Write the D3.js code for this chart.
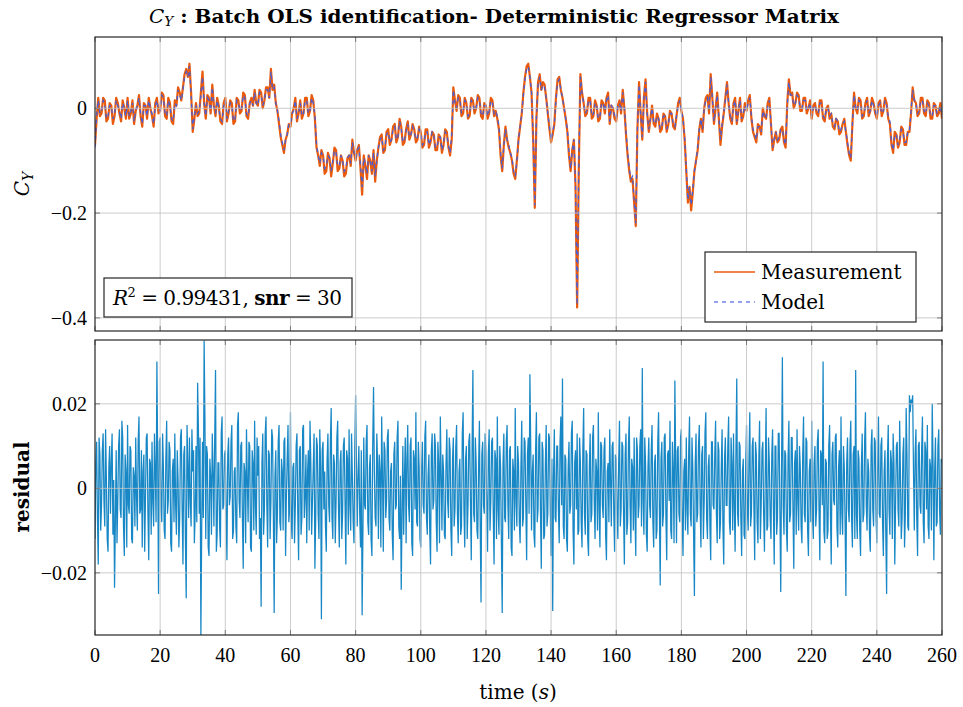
<!DOCTYPE html>
<html>
<head>
<meta charset="utf-8">
<script src="https://cdn.jsdelivr.net/npm/d3@7"></script>
<style>
  body { margin: 0; background: #fff; }
  svg { display: block; }
  .num { font-family: "Liberation Serif", serif; }
  .word { font-family: "DejaVu Serif", serif; }
</style>
</head>
<body>
<div id="chart"></div>
<script>
// x ticks (seconds) and y ticks for both panels
const xTicks = [0, 20, 40, 60, 80, 100, 120, 140, 160, 180, 200, 220, 240, 260];
const topTicks = [-0.4, -0.2, 0];
const topTickLabels = ["\u22120.4", "\u22120.2", "0"];
const resTicks = [-0.02, 0, 0.02];
const resTickLabels = ["\u22120.02", "0", "0.02"];

// sample spacing (s)
const topStep = 0.5;
const resStep = 0.25;

// C_Y measurement, two values per second
const measurement = [
  -.07,-.02,.02,-.015,-.01,.02,.015,-.025,-.02,.01,.005,-.03,-.015,.02,.01,-.01,-.025,.015,0,-.02,
  .02,-.02,-.01,.015,-.03,-.005,.005,.025,-.015,-.035,.01,.005,-.02,.02,0,-.015,-.035,.01,.02,-.01,
  -.005,.03,.025,-.015,-.02,.02,.01,-.025,-.03,.015,.005,.04,.03,.015,.04,.065,.075,.06,.085,.03,
  -.045,-.02,.01,-.015,-.01,.03,.07,.01,-.02,.025,.02,-.01,.045,.005,-.015,.02,.005,-.025,-.03,.01,
  .02,-.025,-.01,.015,.01,-.03,-.025,.02,.015,-.01,-.005,.03,.025,-.015,-.02,.01,.02,.005,.035,.01,
  .005,.035,.03,0,.015,.04,.04,.02,.075,.035,.045,.01,-.005,-.03,-.055,-.07,-.085,-.06,-.05,-.03,
  -.035,-.01,0,.02,-.025,-.01,.015,-.02,-.01,.02,.02,-.015,-.005,.025,.015,-.02,-.075,-.09,-.11,-.08,
  -.09,-.125,-.12,-.085,-.095,-.13,-.105,-.075,-.08,-.12,-.115,-.09,-.1,-.13,-.125,-.095,-.09,-.11,-.06,-.085,
  -.1,-.08,-.07,-.115,-.165,-.09,-.11,-.135,-.09,-.1,-.125,-.08,-.14,-.1,-.075,-.055,-.05,-.085,-.08,-.045,
  -.04,-.07,-.06,-.035,-.03,-.065,-.055,-.02,-.035,-.07,-.065,-.04,-.025,-.06,-.05,-.03,-.04,-.065,-.06,-.035,
  -.045,-.075,-.07,-.04,-.04,-.075,-.065,-.045,-.05,-.08,-.08,-.05,-.055,-.085,-.07,-.04,-.045,-.075,-.09,-.06,
  .04,.015,-.005,.025,.02,-.015,-.01,.02,.01,-.02,-.015,.02,.015,-.01,0,.025,.02,-.015,-.02,.01,
  .005,-.02,-.01,.02,.015,-.015,-.005,-.02,-.04,-.09,-.12,-.07,-.035,-.06,-.075,-.085,-.1,-.125,-.135,-.1,
  -.06,-.035,-.01,.03,.06,.08,.085,.06,.03,-.06,-.19,-.02,.05,.065,.035,.05,.045,.02,-.01,-.04,
  -.065,-.05,-.03,.02,.055,.06,.035,.02,0,-.02,-.045,-.09,-.12,-.08,-.06,-.15,-.38,-.12,.065,.03,
  .01,-.015,-.01,.02,.02,-.02,-.015,.015,.005,-.025,-.02,.015,.01,-.01,.02,.03,-.03,.005,0,-.02,
  -.025,.005,.015,-.01,.035,0,-.05,-.09,-.12,-.14,-.135,-.18,-.225,-.04,.05,-.01,-.06,.02,.055,-.01,
  -.045,-.02,.005,-.03,-.035,-.01,-.02,-.045,-.04,-.01,-.015,-.045,-.03,-.005,-.01,-.035,-.04,-.015,.01,.02,
  -.005,-.02,-.06,-.12,-.18,-.15,-.195,-.16,-.12,-.1,-.08,-.04,-.02,-.045,0,.02,.025,-.01,.065,.02,
  -.03,0,.03,-.02,-.07,-.035,-.01,.02,.05,.01,-.02,-.03,.01,.02,-.03,-.005,.02,-.025,-.015,.01,
  -.005,.015,.025,-.02,-.045,-.055,-.065,-.03,-.035,-.05,0,-.015,-.02,.01,.02,-.03,-.08,-.06,-.045,-.065,
  -.06,-.04,-.035,-.065,-.075,.01,.055,.025,.03,0,.01,.03,.025,-.005,-.005,.02,.02,-.01,0,.015,
  -.02,.005,.01,-.01,-.015,.015,.015,-.02,-.025,0,.005,-.02,-.01,-.035,-.04,-.02,-.025,-.05,-.045,-.03,
  -.02,-.045,-.07,-.09,-.1,-.03,.03,0,-.01,.02,.015,-.02,-.015,.01,.02,-.015,-.005,.02,.01,-.01,
  -.02,.01,.015,-.015,-.005,.02,.01,-.02,-.03,-.07,-.085,-.045,-.05,-.075,-.065,-.035,-.04,-.07,-.07,-.045,
  -.045,-.01,.04,.015,.01,-.015,-.01,.02,.02,-.01,-.015,.015,.01,-.02,-.02,.01,.005,-.015,-.01,.01,
  -.02
];

// OLS model output, two values per second
const model = [
  -.075,-.015,.015,-.01,-.005,.015,.01,-.02,-.015,.005,.005,-.02,-.01,.015,.005,-.005,-.02,.01,0,-.015,
  .015,-.015,-.005,.01,-.025,-.005,.005,.02,-.01,-.03,.005,.005,-.015,.015,0,-.01,-.03,.005,.015,-.005,
  -.005,.025,.02,-.01,-.015,.015,.005,-.02,-.025,.01,.005,.035,.025,.015,.035,.06,.07,.06,.08,.025,
  -.04,-.015,.005,-.01,-.005,.025,.06,.01,-.015,.02,.015,-.005,.04,.005,-.01,.015,0,-.02,-.025,.005,
  .015,-.02,-.005,.01,.005,-.025,-.02,.015,.01,-.005,0,.025,.02,-.01,-.015,.01,.015,.005,.03,.01,
  .005,.03,.025,.005,.015,.035,.035,.02,.07,.035,.04,.01,-.005,-.025,-.05,-.065,-.08,-.06,-.05,-.03,
  -.03,-.01,-.005,.015,-.02,-.01,.01,-.015,-.01,.015,.015,-.01,-.005,.02,.01,-.015,-.07,-.09,-.105,-.085,
  -.09,-.115,-.11,-.09,-.095,-.12,-.1,-.08,-.085,-.11,-.11,-.09,-.1,-.12,-.115,-.095,-.09,-.105,-.065,-.085,
  -.095,-.08,-.075,-.11,-.15,-.095,-.105,-.125,-.09,-.1,-.12,-.085,-.13,-.1,-.075,-.06,-.055,-.08,-.075,-.05,
  -.045,-.065,-.06,-.04,-.035,-.06,-.055,-.025,-.04,-.065,-.06,-.045,-.03,-.055,-.05,-.035,-.045,-.06,-.055,-.04,
  -.05,-.07,-.065,-.045,-.045,-.07,-.06,-.045,-.05,-.075,-.075,-.055,-.055,-.08,-.065,-.045,-.05,-.07,-.085,-.05,
  .035,.01,0,.02,.015,-.01,-.005,.015,.01,-.015,-.01,.015,.01,-.005,0,.02,.015,-.01,-.015,.005,
  .005,-.015,-.005,.015,.01,-.01,-.005,-.015,-.035,-.085,-.115,-.07,-.04,-.06,-.07,-.085,-.095,-.12,-.13,-.1,
  -.06,-.035,-.01,.025,.055,.075,.08,.06,.03,-.055,-.185,-.02,.045,.06,.035,.045,.04,.02,-.01,-.035,
  -.06,-.045,-.03,.015,.05,.055,.035,.02,0,-.02,-.04,-.085,-.115,-.08,-.06,-.145,-.375,-.12,.06,.03,
  .01,-.01,-.005,.015,.015,-.015,-.01,.01,.005,-.02,-.015,.01,.01,-.005,.015,.025,-.025,.005,0,-.015,
  -.02,.005,.01,-.005,.03,0,-.045,-.085,-.115,-.135,-.13,-.175,-.22,-.04,.045,-.01,-.055,.02,.05,-.01,
  -.04,-.02,0,-.025,-.03,-.015,-.02,-.04,-.035,-.015,-.015,-.04,-.03,-.01,-.01,-.03,-.035,-.015,.005,.015,
  -.005,-.02,-.055,-.115,-.175,-.15,-.185,-.155,-.12,-.1,-.075,-.04,-.02,-.04,0,.015,.02,-.005,.06,.02,
  -.025,0,.025,-.015,-.06,-.03,-.01,.015,.045,.01,-.015,-.025,.005,.015,-.025,-.005,.015,-.02,-.01,.005,
  -.005,.01,.02,-.015,-.04,-.05,-.06,-.035,-.035,-.045,-.005,-.015,-.02,.005,.015,-.03,-.075,-.06,-.045,-.06,
  -.055,-.04,-.04,-.06,-.07,.005,.05,.025,.025,.005,.01,.025,.02,0,0,.015,.015,-.005,0,.01,
  -.015,.005,.005,-.005,-.01,.01,.01,-.015,-.02,0,0,-.015,-.01,-.03,-.035,-.02,-.025,-.045,-.04,-.03,
  -.025,-.045,-.065,-.085,-.095,-.03,.025,0,-.005,.015,.01,-.015,-.01,.005,.015,-.01,-.005,.015,.005,-.005,
  -.015,.005,.01,-.01,-.005,.015,.005,-.015,-.025,-.065,-.08,-.05,-.05,-.07,-.06,-.04,-.045,-.065,-.065,-.045,
  -.045,-.005,.035,.015,.01,-.01,-.005,.015,.015,-.005,-.01,.01,.005,-.015,-.015,.005,.005,-.01,-.01,.005,
  -.015
];

// residual, four values per second
const residual = [
  -.012,.006,.011,-.007,-.018,.012,.008,-.010,-.004,.009,.013,-.003,-.009,.014,.002,-.012,-.015,.005,.010,-.006,.006,.013,-.011,.002,-.0235,-.008,.009,-.013,-.003,.010,.014,-.005,-.007,.016,.012,-.009,-.016,.008,.004,-.014,
  .015,-.004,-.006,.010,.009,-.012,-.013,.005,.003,-.009,.012,-.002,-.010,.011,.017,-.006,-.005,.009,-.014,.004,.008,-.015,-.002,.012,.013,-.006,-.017,.007,.006,-.011,.011,-.003,-.009,.013,.004,-.008,.030,.006,-.025,.011,
  .012,-.005,-.008,.013,.005,-.010,-.012,.007,.016,-.006,-.003,.011,.009,-.013,-.015,.004,.007,-.008,.013,-.004,-.011,.009,.002,-.014,-.007,.012,.014,-.005,-.018,.008,.010,-.012,-.026,.015,.006,-.007,.012,-.003,-.009,.014,
  .004,.009,-.013,-.006,.010,-.008,.025,.014,-.006,.012,-.035,-.010,.011,-.007,.035,.016,-.012,.010,.008,-.014,-.016,.007,.003,-.011,.013,.004,-.009,.012,.028,-.015,-.011,.006,.006,-.009,-.014,.013,.017,-.005,-.004,.008,
  .009,-.006,-.017,.008,.012,-.004,-.002,.011,.015,-.012,-.010,.004,.005,-.009,-.013,.015,.018,-.003,-.007,.010,.011,-.007,-.019,.006,.004,-.013,.014,.002,-.008,.011,.010,-.014,-.015,.009,.006,-.010,.016,-.004,-.011,.012,
  .003,.010,-.012,-.007,-.028,.006,.013,-.011,-.005,.013,.017,-.004,-.014,.009,.008,-.012,-.003,.014,.012,-.006,-.0295,.003,.009,-.013,-.006,.011,.015,-.008,-.010,.007,.004,-.010,.011,.012,-.016,-.002,.007,.015,-.008,-.005,
  .018,-.008,-.012,.005,.006,-.013,-.004,.010,.013,-.006,-.017,.009,.010,-.011,-.007,.014,.015,-.007,-.002,.008,-.013,.004,.009,-.010,.016,.006,-.011,-.003,.005,.013,-.019,-.007,.012,.010,-.006,-.012,.014,.005,-.031,.009,
  .011,-.005,.004,-.009,-.015,.007,.013,-.004,-.008,.011,.019,-.007,-.012,.008,.006,-.013,-.003,.012,.016,-.005,-.014,.006,.009,-.012,-.006,.010,.012,-.003,-.018,.009,.007,-.011,.014,-.004,-.010,.013,.003,-.008,-.013,.010,
  .022,.006,-.009,.003,.010,-.006,-.014,.009,-.030,-.010,.012,-.004,-.005,.011,.015,-.008,-.011,.005,.008,-.012,-.016,.010,.024,.004,-.007,-.009,.013,.006,-.012,.008,.004,-.014,.017,.003,-.015,.011,.009,-.007,-.003,.012,
  .014,-.007,-.010,.004,.006,-.011,-.017,.008,.011,-.005,-.004,.012,.016,-.009,-.012,.003,-.024,-.006,.010,-.011,.003,.012,-.013,.007,.015,-.004,-.008,.010,.012,-.013,-.016,.009,.007,-.005,.018,-.008,-.009,.011,.005,-.012,
  -.014,.005,.011,-.004,-.006,.012,.016,-.007,-.011,.003,.008,-.010,-.018,.009,.013,-.005,-.003,.013,.010,-.008,-.015,.011,.006,-.013,.017,.004,-.010,.008,.004,-.011,-.012,.006,.014,-.003,-.007,.012,.009,-.010,-.016,.007,
  .012,-.009,-.005,.010,.015,-.006,-.013,.004,.007,-.011,-.009,.013,.018,-.005,-.014,.007,.010,-.012,-.004,.011,.013,-.003,-.017,.009,.028,-.006,-.008,.012,.006,-.010,-.012,.005,.016,-.009,-.027,.008,.011,-.004,-.006,.013,
  .009,-.004,-.015,.008,.014,-.010,-.003,.011,.012,-.006,-.018,.009,.007,-.012,.017,-.005,-.011,.010,.005,-.013,-.0295,.006,.013,-.007,-.008,.011,.015,-.004,-.012,.009,.010,-.014,-.016,.007,.004,-.010,.019,-.003,-.009,.010,
  .006,-.008,-.013,.005,.016,-.009,-.007,.012,.011,-.004,-.017,.008,.012,-.006,.027,.010,-.010,.004,.008,-.011,-.014,.009,.018,-.008,-.005,.012,.013,-.006,-.019,.011,.009,-.012,-.011,.006,.015,-.009,-.006,.013,.012,-.005,
  -.016,.007,-.029,.003,.014,-.007,-.008,.010,.010,-.005,-.013,.011,.017,-.004,.026,-.009,-.012,.008,.007,-.012,-.015,.005,.011,-.006,-.004,.013,.016,-.010,-.018,.006,.009,-.005,.013,-.011,-.010,.012,.006,-.008,-.014,.009,
  .019,-.006,-.011,.009,.008,-.012,-.016,.005,.013,-.008,-.006,.012,.015,-.003,-.012,.007,.004,-.010,.018,-.005,-.014,.011,.010,-.004,-.007,.009,.012,-.011,-.017,.004,.006,-.008,.014,.002,-.009,.010,.011,-.006,-.015,.008,
  .007,-.005,-.012,.006,.016,-.009,-.005,.011,.010,-.006,-.018,.008,.013,-.011,-.008,.010,.017,-.004,-.013,.007,.005,-.010,.012,-.006,-.016,.012,.009,-.007,-.004,.010,.014,-.009,.0285,-.003,-.011,.012,.006,-.011,-.015,.005,
  .012,-.004,-.007,.009,.015,-.008,-.014,.006,.008,-.012,-.010,.011,.018,-.005,-.023,.007,.011,-.009,-.006,.012,.013,-.007,-.017,.008,.009,-.003,.016,-.010,-.012,.011,.004,-.013,.0255,.006,-.013,.009,.010,-.006,-.008,.012,
  .014,-.007,-.016,.004,.007,-.010,.012,-.005,-.011,.009,.017,-.006,-.009,.012,.005,-.011,-.0255,.006,.013,-.008,-.006,.010,.015,-.004,-.014,.008,.010,-.012,-.003,.013,.018,-.007,-.012,.005,.008,-.009,-.017,.011,.011,-.004,
  -.005,.008,.016,-.006,-.013,.011,.009,-.012,-.008,.005,.014,-.009,-.018,.007,.012,-.004,-.004,.010,.017,-.008,-.011,.012,.006,-.010,.013,-.005,-.015,.009,.026,-.006,-.009,.011,.010,-.007,-.016,.004,.007,-.011,-.012,.006,
  .015,-.005,-.010,.007,.018,-.009,-.006,.010,.012,-.004,-.017,.011,.008,-.008,-.013,.006,.016,-.012,-.004,.009,.011,-.006,-.015,.004,.019,-.010,-.009,.012,.006,-.007,-.012,.008,.014,-.005,-.018,.010,.010,-.011,-.007,.013,
  .013,-.006,-.0245,.005,.031,-.004,-.011,.009,.008,-.010,-.015,.007,.016,-.008,-.006,.012,.012,-.005,-.019,.006,.009,-.011,.014,-.003,-.010,.010,.005,-.009,-.013,.008,.017,-.006,-.008,.012,.011,-.010,-.016,.004,.007,-.008,
  .016,-.007,-.012,.006,.010,-.009,-.005,.011,.014,-.005,-.017,.009,.008,-.004,.030,-.010,-.013,.007,.006,-.012,-.010,.010,.015,-.006,-.018,.008,.011,-.003,-.004,.012,.013,-.009,-.014,.005,.009,-.011,.017,-.006,-.011,.010,
  .005,-.008,-.0255,.006,.012,-.005,-.008,.010,.016,-.007,-.014,.008,.010,-.012,.028,-.006,-.012,.009,.007,-.010,-.016,.005,.013,-.008,-.006,.011,.018,-.004,-.010,.007,.004,-.011,-.015,.010,.014,-.005,-.009,.012,.011,-.007,
  -.013,.005,.017,-.006,-.007,.010,.012,-.008,-.016,.004,.009,-.011,-.025,.007,.015,-.005,-.011,.009,.006,-.012,.013,.006,-.018,-.004,.010,.011,-.005,-.009,.016,.003,-.012,-.007,.008,.012,-.014,-.006,.019,.008,-.009,-.010,
  .022,.018,.021,.020,.022,.004,-.010,.008,.014,-.007,-.016,.010,.011,-.004,-.006,.009,.017,-.008,-.013,.011,.009,-.005,.015,-.009,-.012,.007,.005,-.010,.020,.006,-.017,.004,.012,-.009,-.008,.010,.014,-.005,-.011,.007,
  .006
];

let width = 963,
    height = 707;
let svg = d3.select("div#chart").append("svg")
            .attr("width", width)
            .attr("height", height);

let left = 95, right = 942;
let x = d3.scaleLinear().domain([0, 260]).range([left, right]);
let yTop = d3.scaleLinear().domain([-0.425, 0.136]).range([331, 37]);
let yRes = d3.scaleLinear().domain([-0.0347, 0.0351]).range([635, 340]);

function clipFor(id, y) {
  svg.append("clipPath").attr("id", id)
    .append("rect")
    .attr("x", left).attr("y", y.range()[1])
    .attr("width", right - left).attr("height", y.range()[0] - y.range()[1]);
}

// grid, inner ticks and frame, drawn on top of the data like pgfplots "axis on top"
function frame(y, yTicks) {
  let g = svg.append("g");
  let top = y.range()[1], bottom = y.range()[0];
  g.selectAll("line.gx").data(xTicks.slice(1, -1)).enter().append("line")
    .attr("x1", d => x(d)).attr("x2", d => x(d))
    .attr("y1", top).attr("y2", bottom)
    .style("stroke", "#c4c4c4").style("stroke-width", 1).style("opacity", 0.85);
  g.selectAll("line.gy").data(yTicks).enter().append("line")
    .attr("x1", left).attr("x2", right)
    .attr("y1", d => y(d)).attr("y2", d => y(d))
    .style("stroke", "#c4c4c4").style("stroke-width", 1).style("opacity", 0.85);
  // tick marks on all four sides
  xTicks.forEach(function(d) {
    g.append("line").attr("x1", x(d)).attr("x2", x(d)).attr("y1", top).attr("y2", top + 5)
      .style("stroke", "#7a7a7a").style("stroke-width", 1);
    g.append("line").attr("x1", x(d)).attr("x2", x(d)).attr("y1", bottom).attr("y2", bottom - 5)
      .style("stroke", "#7a7a7a").style("stroke-width", 1);
  });
  yTicks.forEach(function(d) {
    g.append("line").attr("x1", left).attr("x2", left + 5).attr("y1", y(d)).attr("y2", y(d))
      .style("stroke", "#7a7a7a").style("stroke-width", 1);
    g.append("line").attr("x1", right).attr("x2", right - 5).attr("y1", y(d)).attr("y2", y(d))
      .style("stroke", "#7a7a7a").style("stroke-width", 1);
  });
  g.append("rect")
    .attr("x", left).attr("y", top)
    .attr("width", right - left).attr("height", bottom - top)
    .style("fill", "none").style("stroke", "#262626").style("stroke-width", 1.2);
}

function yLabels(y, ticks, labels) {
  svg.append("g").selectAll("text")
    .data(ticks)
    .enter().append("text")
    .attr("class", "num")
    .attr("x", left - 8)
    .attr("y", d => y(d))
    .attr("dy", "0.35em")
    .attr("text-anchor", "end")
    .style("font-size", "20px")
    .text((d, i) => labels[i]);
}

clipFor("clipTop", yTop);
clipFor("clipRes", yRes);

// top panel: measurement (thick orange) and model (thin dashed blue)
let lineTop = d3.line()
  .x((d, i) => x(i * topStep))
  .y(d => yTop(d));
svg.append("path")
  .datum(measurement)
  .attr("clip-path", "url(#clipTop)")
  .attr("d", lineTop)
  .style("fill", "none").style("stroke", "#ea5a0c").style("stroke-width", 2.2)
  .style("stroke-linejoin", "round");
svg.append("path")
  .datum(model)
  .attr("clip-path", "url(#clipTop)")
  .attr("d", lineTop)
  .style("fill", "none").style("stroke", "#4a5ed6").style("stroke-width", 1.3)
  .style("stroke-dasharray", "4,4");
frame(yTop, topTicks);
yLabels(yTop, topTicks, topTickLabels);

// bottom panel: residual
let lineRes = d3.line()
  .x((d, i) => x(i * resStep))
  .y(d => yRes(d));
svg.append("path")
  .datum(residual)
  .attr("clip-path", "url(#clipRes)")
  .attr("d", lineRes)
  .style("fill", "none").style("stroke", "#1787c5").style("stroke-width", 1.25);
frame(yRes, resTicks);
yLabels(yRes, resTicks, resTickLabels);

// x tick labels under the lower panel
svg.append("g").selectAll("text")
  .data(xTicks)
  .enter().append("text")
  .attr("class", "num")
  .attr("x", d => x(d))
  .attr("y", 662)
  .attr("text-anchor", "middle")
  .style("font-size", "20px")
  .text(d => d);

// title
let title = svg.append("text")
  .attr("class", "word")
  .attr("x", 494).attr("y", 23)
  .attr("text-anchor", "middle")
  .attr("textLength", 690).attr("lengthAdjust", "spacingAndGlyphs")
  .style("font-size", "19px");
title.append("tspan").style("font-style", "italic").text("C");
title.append("tspan").style("font-style", "italic").style("font-size", "13px").attr("dy", 3).text("Y");
title.append("tspan").attr("dy", -3).style("font-weight", "bold").text(" : Batch OLS identification- Deterministic Regressor Matrix");

// axis labels
let cy = svg.append("text")
  .attr("class", "word")
  .attr("transform", "translate(29,184) rotate(-90)")
  .attr("text-anchor", "middle")
  .style("font-size", "20px");
cy.append("tspan").style("font-style", "italic").text("C");
cy.append("tspan").style("font-style", "italic").style("font-size", "14px").attr("dy", 4).text("Y");

svg.append("text")
  .attr("class", "word")
  .attr("transform", "translate(29,487) rotate(-90)")
  .attr("text-anchor", "middle")
  .style("font-size", "20px").style("font-weight", "bold")
  .text("residual");

let xl = svg.append("text")
  .attr("class", "word")
  .attr("x", 518).attr("y", 699)
  .attr("text-anchor", "middle")
  .style("font-size", "20px");
xl.append("tspan").text("time (");
xl.append("tspan").style("font-style", "italic").text("s");
xl.append("tspan").text(")");

// R^2 box
svg.append("rect")
  .attr("x", 104).attr("y", 278).attr("width", 248).attr("height", 39)
  .style("fill", "#fff").style("stroke", "#262626").style("stroke-width", 1.2);
let r2 = svg.append("text")
  .attr("class", "word")
  .attr("x", 113).attr("y", 305)
  .attr("textLength", 229).attr("lengthAdjust", "spacing")
  .style("font-size", "20px");
r2.append("tspan").style("font-style", "italic").text("R");
r2.append("tspan").style("font-size", "13px").attr("dy", -8).text("2");
r2.append("tspan").attr("dy", 8).text(" = 0.99431, ");
r2.append("tspan").style("font-weight", "bold").text("snr");
r2.append("tspan").text(" = 30");

// legend
let Lpos = [705, 252];
svg.append("rect")
  .attr("x", Lpos[0]).attr("y", Lpos[1]).attr("width", 211).attr("height", 70)
  .style("fill", "#fff").style("stroke", "#262626").style("stroke-width", 1.2);
let legendItems = [
  {label: "Measurement", color: "#ea5a0c", dash: null},
  {label: "Model", color: "#6f84e6", dash: "4,4"}
];
legendItems.forEach(function(d, i) {
  let yy = Lpos[1] + 20 + i * 30;
  svg.append("line")
    .attr("x1", Lpos[0] + 9).attr("x2", Lpos[0] + 50)
    .attr("y1", yy).attr("y2", yy)
    .style("stroke", d.color).style("stroke-width", 1.4)
    .style("stroke-dasharray", d.dash);
  svg.append("text")
    .attr("class", "word")
    .attr("x", Lpos[0] + 56).attr("y", yy + 7)
    .style("font-size", "20px")
    .text(d.label);
});
</script>
</body>
</html>
